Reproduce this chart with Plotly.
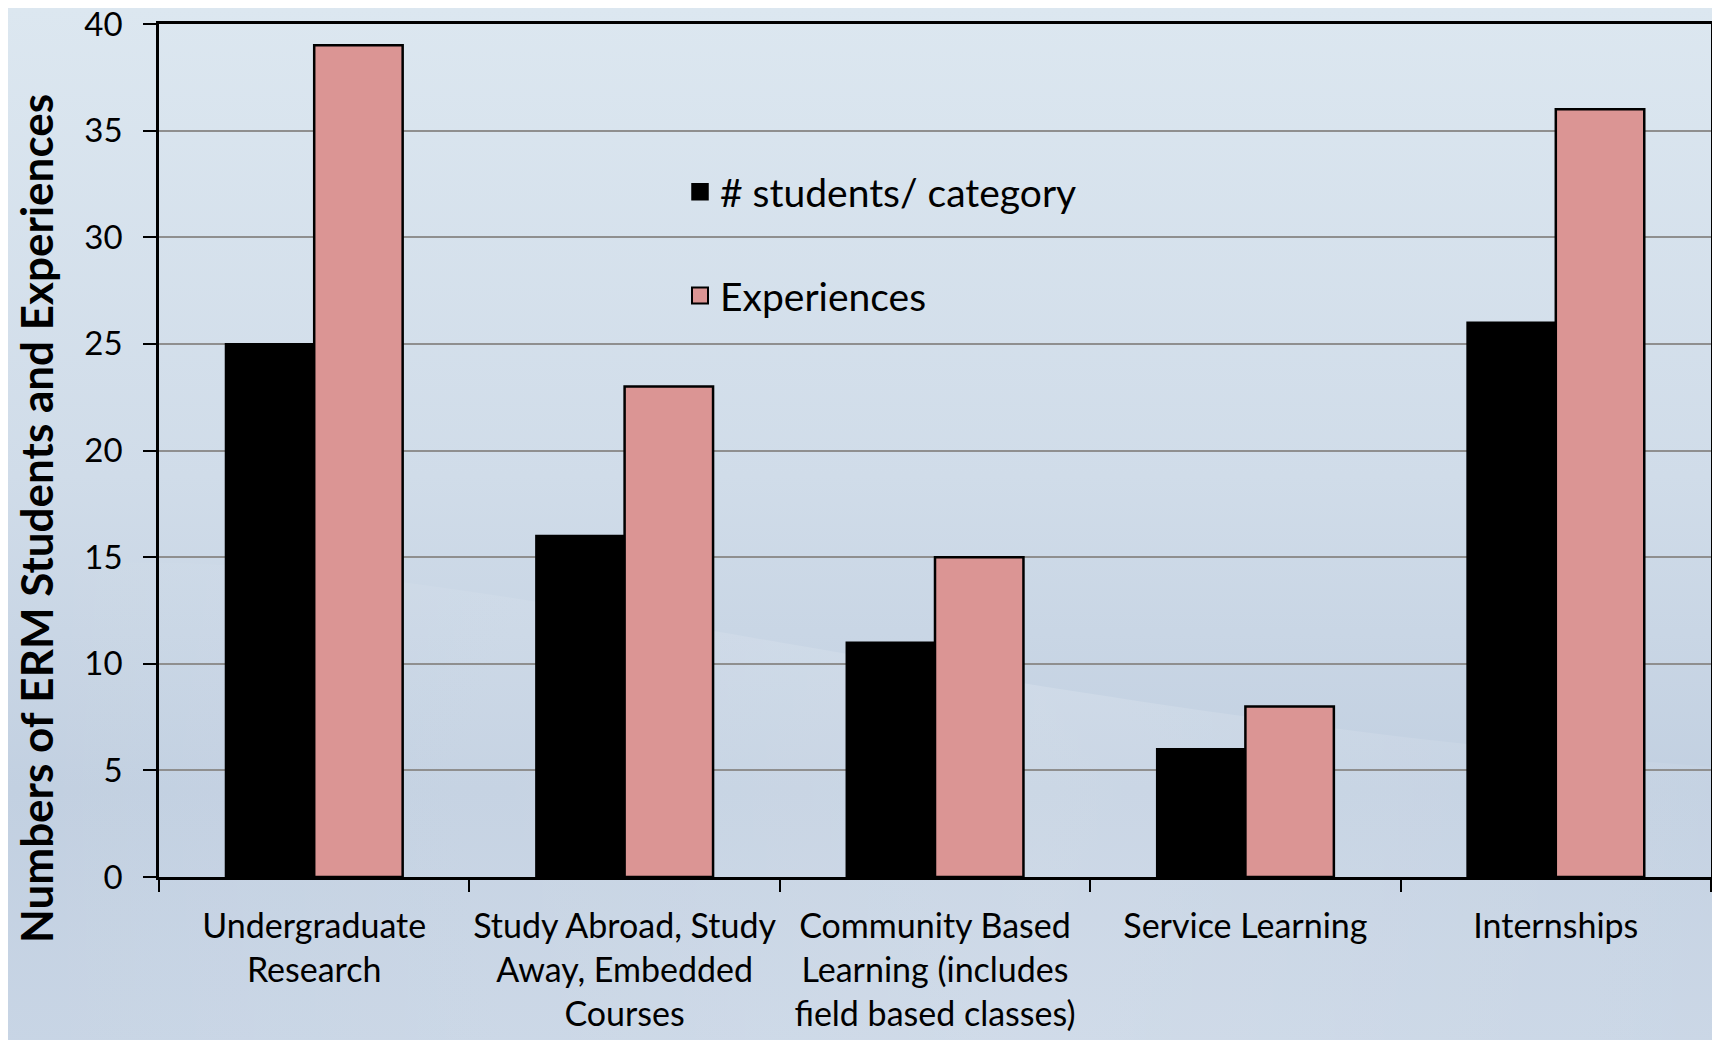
import base64
import plotly.graph_objects as go

categories = [
    "Undergraduate<br>Research",
    "Study Abroad, Study<br>Away, Embedded<br>Courses",
    "Community Based<br>Learning (includes<br>field based classes)",
    "Service Learning",
    "Internships",
]
students = [25, 16, 11, 6, 26]
experiences = [39, 23, 15, 8, 36]
series_names = ["# students/ category", "Experiences"]
y_ticks = [0, 5, 10, 15, 20, 25, 30, 35, 40]

FONT = "Lato, 'Open Sans', sans-serif"
COL_STUDENTS = "#000000"
COL_EXPER = "#db9594"

svg = """<svg xmlns='http://www.w3.org/2000/svg' width='1720' height='1040' viewBox='0 0 1720 1040' preserveAspectRatio='none'>
<defs>
<linearGradient id='g' x1='0' y1='0' x2='0' y2='1'>
<stop offset='0' stop-color='#dce7f0'/>
<stop offset='0.45' stop-color='#d0dce9'/>
<stop offset='0.75' stop-color='#c2d0e1'/>
<stop offset='1' stop-color='#c8d5e5'/>
</linearGradient>
<linearGradient id='w' x1='0' y1='0' x2='1' y2='0'>
<stop offset='0' stop-color='#ffffff' stop-opacity='0'/>
<stop offset='0.6' stop-color='#ffffff' stop-opacity='0.15'/>
<stop offset='1' stop-color='#ffffff' stop-opacity='0.05'/>
</linearGradient>
</defs>
<rect width='1720' height='1040' fill='url(#g)'/>
<path d='M0,560 C400,520 900,700 1720,760 L1720,1040 L0,1040 Z' fill='url(#w)'/>
</svg>"""
svg_uri = "data:image/svg+xml;base64," + base64.b64encode(svg.encode()).decode()

# plot area in figure pixels
L, T, R_EDGE, B_EDGE = 151, 16, 1703, 869
PW, PH = R_EDGE - L, B_EDGE - T

fig = go.Figure()
fig.add_trace(go.Bar(
    x=categories, y=students, name=series_names[0],
    marker=dict(color=COL_STUDENTS, line=dict(color="#000000", width=2)),
    legendgroup="a", showlegend=False,
))
fig.add_trace(go.Bar(
    x=categories, y=experiences, name=series_names[1],
    marker=dict(color=COL_EXPER, line=dict(color="#000000", width=2.5)),
    legendgroup="b", showlegend=False,
))
# legend entries (linked to the bars through legendgroup)
fig.add_trace(go.Scatter(
    x=[None], y=[None], mode="markers", name=series_names[0], legendgroup="a",
    marker=dict(symbol="square", size=16, color=COL_STUDENTS,
                line=dict(color="#000000", width=1.5)),
))
fig.add_trace(go.Scatter(
    x=[None], y=[None], mode="markers", name=series_names[1], legendgroup="b",
    marker=dict(symbol="square", size=16, color=COL_EXPER,
                line=dict(color="#000000", width=2)),
))

fig.update_layout(
    width=1720, height=1040,
    margin=dict(l=L, r=1720 - R_EDGE, t=T, b=1040 - B_EDGE, autoexpand=False),
    paper_bgcolor="#cfdbe8",
    plot_bgcolor="rgba(0,0,0,0)",
    barmode="group",
    bargap=0.43,
    bargroupgap=0,
    font=dict(family=FONT, color="#000000", size=33),
    images=[dict(source=svg_uri, xref="paper", yref="paper",
                 x=-L / PW, y=1 + T / PH,
                 sizex=1720 / PW, sizey=1040 / PH, sizing="stretch",
                 xanchor="left", yanchor="top", layer="below")],
    legend=dict(
        x=(672 - L) / PW, y=1 - (152 - T) / PH, xanchor="left", yanchor="top",
        bgcolor="rgba(0,0,0,0)", font=dict(size=39, family=FONT),
        traceorder="grouped", tracegroupgap=50, itemsizing="trace",
    ),
    xaxis=dict(
        showline=True, linecolor="#000000", linewidth=2.5, mirror=True,
        ticks="outside", tickson="boundaries", ticklen=12, tickwidth=2,
        tickcolor="#000000", showgrid=False,
        tickfont=dict(size=34, family=FONT),
        tickangle=0, automargin=False,
        ticklabelstandoff=17,
    ),
    yaxis=dict(
        range=[0, 40], tickvals=y_ticks,
        showline=True, linecolor="#000000", linewidth=2.5, mirror=True,
        ticks="outside", ticklen=13, tickwidth=2, tickcolor="#000000",
        showgrid=True, gridcolor="#8f8f8f", gridwidth=1.5,
        zeroline=False, automargin=False,
        tickfont=dict(size=33, family=FONT),
        ticklabelstandoff=14, ticklabeloverflow="allow",
    ),
    annotations=[dict(
        text="<b>Numbers of ERM Students and Experiences</b>",
        xref="paper", yref="paper",
        x=(28 - L) / PW, y=1 - (511 - T) / PH,
        xanchor="center", yanchor="middle", textangle=-90, showarrow=False,
        font=dict(size=44, family=FONT, color="#000000"),
    )],
)

fig.write_html("out.html")
